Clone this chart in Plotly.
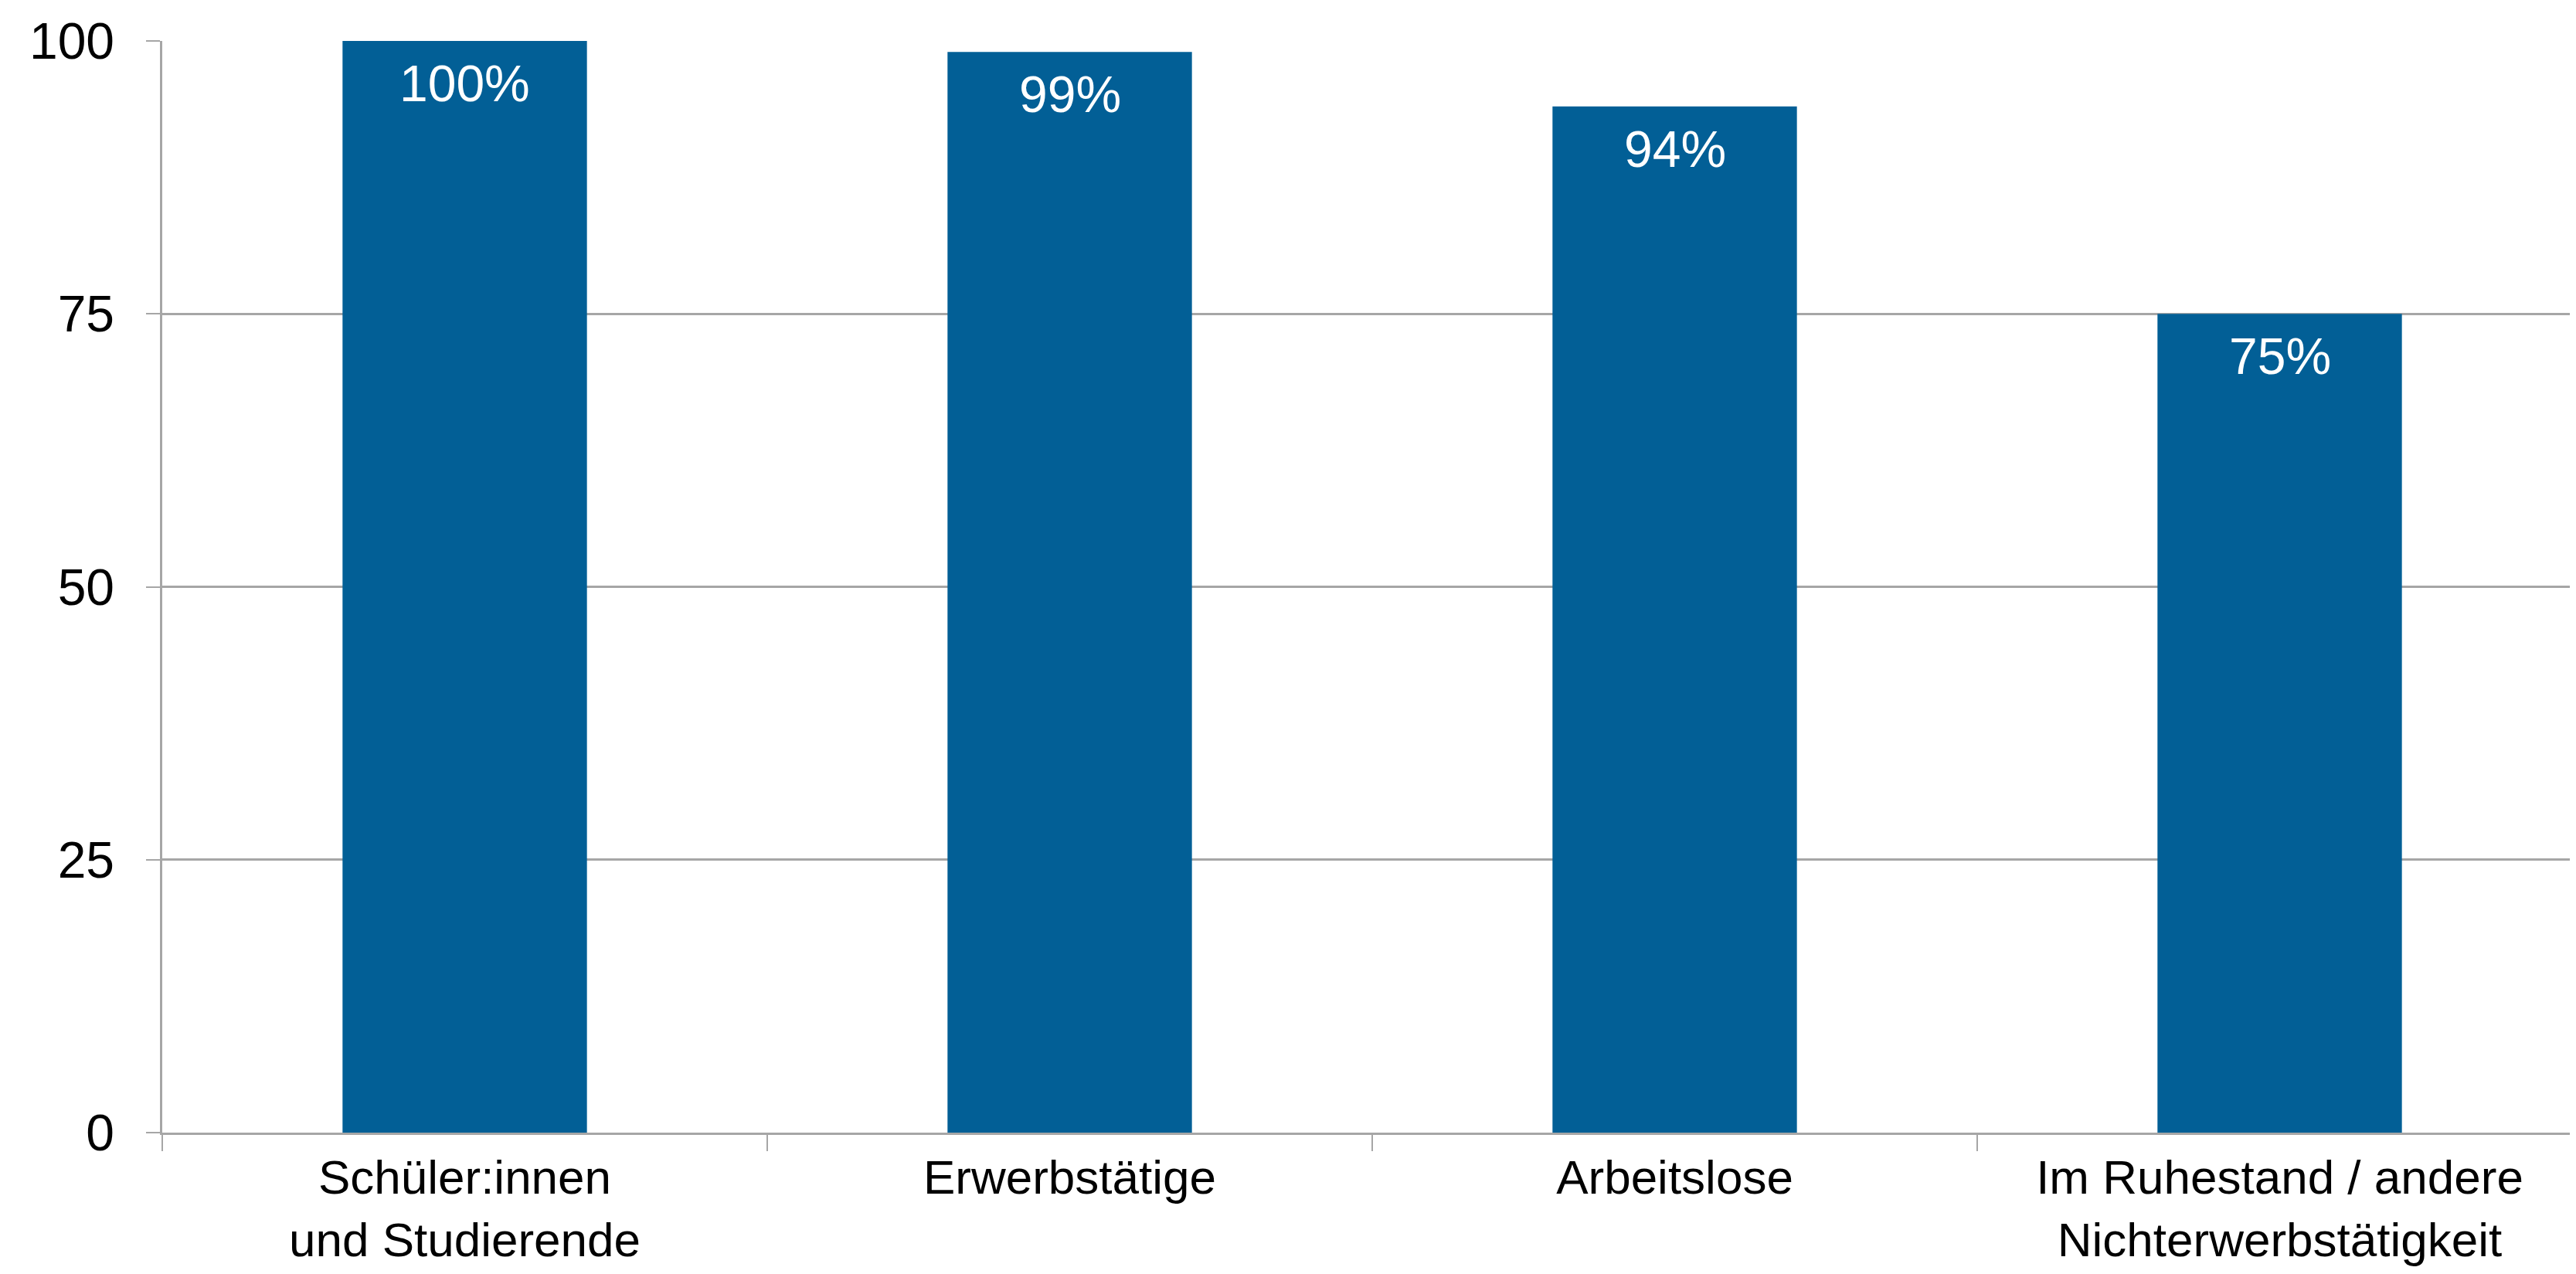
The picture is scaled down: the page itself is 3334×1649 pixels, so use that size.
import plotly.graph_objects as go

categories = ["Schüler:innen<br>und Studierende", "Erwerbstätige", "Arbeitslose",
              "Im Ruhestand / andere<br>Nichterwerbstätigkeit"]
values = [100, 99, 94, 75]
label_texts = [f"{v}%" for v in values]
y_ticks = [0, 25, 50, 75, 100]

BAR = "#025F96"
GRID = "#A6A6A6"
FONT = "Liberation Sans, Arial, sans-serif"
FS = 66

fig = go.Figure()
fig.add_trace(go.Bar(x=categories, y=values, marker=dict(color=BAR, line=dict(width=0)),
                     hoverinfo="skip"))

for c, v, t in zip(categories, values, label_texts):
    fig.add_annotation(x=c, y=v, text=t, showarrow=False, yanchor="top", yshift=-16,
                       font=dict(family=FONT, size=FS, color="white"))

fig.update_layout(
    width=3334, height=1649,
    margin=dict(l=202, r=0, t=45, b=191),
    paper_bgcolor="white", plot_bgcolor="white",
    bargap=0.596, showlegend=False,
    font=dict(family=FONT, size=FS, color="black"),
)
fig.update_xaxes(
    showline=True, linecolor=GRID, linewidth=2.5,
    ticks="outside", tickson="boundaries", ticklen=21, tickwidth=2, tickcolor=GRID,
    ticklabelstandoff=2,
    showgrid=False, tickfont=dict(family=FONT, size=62, color="black"),
)
fig.update_yaxes(
    range=[0, 100], tickvals=y_ticks, showgrid=True, gridcolor=GRID, gridwidth=2.5,
    showline=True, linecolor=GRID, linewidth=2.5, zeroline=False,
    ticks="outside", ticklen=18, tickwidth=2, tickcolor=GRID,
    ticklabelstandoff=28,
    tickfont=dict(family=FONT, size=FS, color="black"),
)

fig.write_html("out.html")
